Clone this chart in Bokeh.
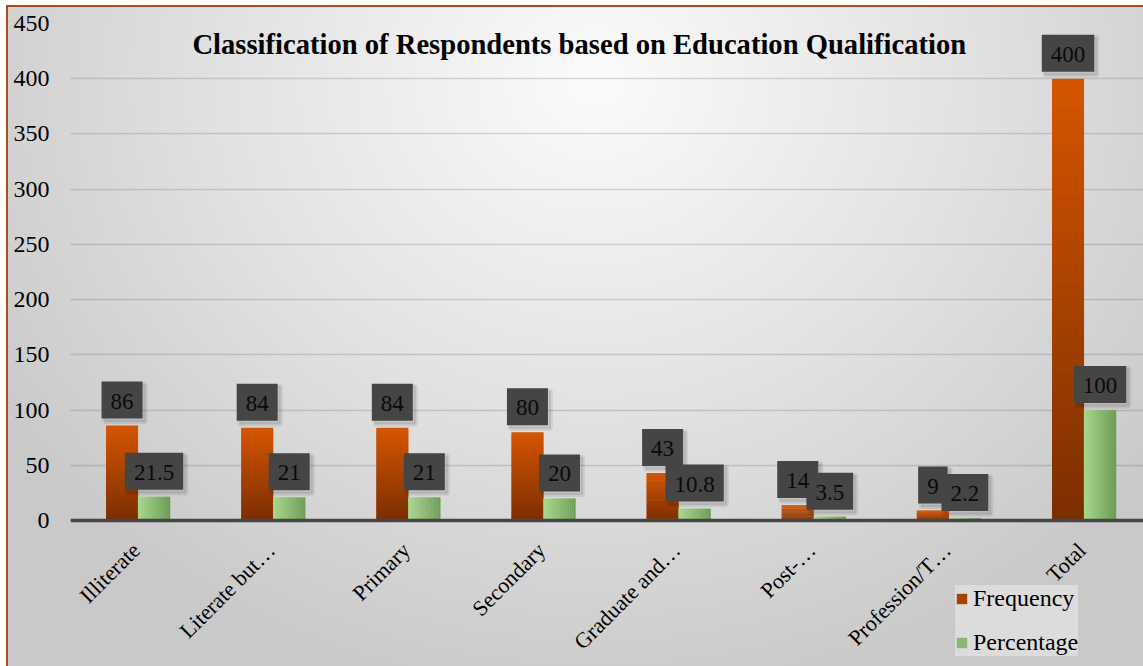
import math
from bokeh.plotting import figure
from bokeh.models import ColumnDataSource, FixedTicker, Label, LabelSet, Legend, LegendItem, Span
from bokeh.core.properties import value
from bokeh.embed import file_html
from bokeh.resources import INLINE

# ---- data ----
categories = ["Illiterate", "Literate but…", "Primary", "Secondary",
              "Graduate and…", "Post-…", "Profession/T…", "Total"]
frequency = [86, 84, 84, 80, 43, 14, 9, 400]
percentage = [21.5, 21, 21, 20, 10.8, 3.5, 2.2, 100]
y_ticks = [0, 50, 100, 150, 200, 250, 300, 350, 400, 450]
series_names = ["Frequency", "Percentage"]
title_text = "Classification of Respondents based on Education Qualification"

FONT = "Liberation Serif"
BAR_W = 0.237
OFF = BAR_W / 2
PX_PER_UNIT = 497 / 450.0          # vertical pixels per data unit
LABEL_LIFT = 25.5 / PX_PER_UNIT    # label box centre above bar top
Y_START = -146 / PX_PER_UNIT       # room below the axis for the category labels


def lerp_color(c1, c2, t):
    a = [int(c1[i:i + 2], 16) for i in (1, 3, 5)]
    b = [int(c2[i:i + 2], 16) for i in (1, 3, 5)]
    return "#%02x%02x%02x" % tuple(int(round(a[i] + (b[i] - a[i]) * t)) for i in range(3))


# orange bars: vertical gradient (dark bottom -> bright top), overlapping slices
N = 40
fx, fb, ft, fc = [], [], [], []
for i, v in enumerate(frequency):
    for k in range(N):
        fx.append(i - OFF)
        fb.append(max(0.0, v * (k - 0.6) / N))
        ft.append(v * (k + 1) / N)
        fc.append(lerp_color("#7a2e00", "#d45500", (k + 0.5) / N))
freq_src = ColumnDataSource(dict(x=fx, bottom=fb, top=ft, color=fc))

# green bars: horizontal gradient (light left -> darker right)
M = 16
gx, gt, gc = [], [], []
for i, v in enumerate(percentage):
    for j in range(M):
        gx.append(i + OFF - BAR_W / 2 + BAR_W * (j + 0.5) / M)
        gt.append(v)
        gc.append(lerp_color("#a8d88c", "#6e9c58", (j + 0.5) / M))
pct_src = ColumnDataSource(dict(x=gx, top=gt, color=gc))

p = figure(width=1143, height=666, output_backend="svg", toolbar_location=None,
           x_range=(-0.5, 7.44), y_range=(Y_START, 450),
           min_border_left=70, min_border_right=0, min_border_top=23, min_border_bottom=0)

bg = ("linear-gradient(#ffffff,#ffffff) 0 0/6px 100% no-repeat, "
      "linear-gradient(#ffffff,#ffffff) 0 0/100% 5px no-repeat, "
      "linear-gradient(#a5501f,#a5501f) 6px 5px/2px 100% no-repeat, "
      "linear-gradient(#a5501f,#a5501f) 6px 5px/100% 2px no-repeat, "
      "radial-gradient(ellipse 62% 95% at 52% 12%, #fbfbfb 0%, #e3e3e3 50%, #c9c9c9 100%)")
p.styles = {"background": bg}
p.border_fill_color = None
p.background_fill_color = None
p.outline_line_color = None

r_freq = p.vbar(x="x", width=BAR_W, bottom="bottom", top="top", source=freq_src,
                fill_color="color", line_color=None)
r_pct = p.vbar(x="x", width=BAR_W / M * 1.15, bottom=0, top="top", source=pct_src,
               fill_color="color", line_color=None)

# x axis: line only (category labels drawn below as rotated labels)
p.xaxis.visible = False
p.add_layout(Span(location=0, dimension="width", line_color="#464646", line_width=3.5))

p.yaxis.ticker = FixedTicker(ticks=y_ticks)
p.yaxis.axis_line_color = None
p.yaxis.major_tick_line_color = None
p.yaxis.minor_tick_line_color = None
p.yaxis.major_label_text_font = FONT
p.yaxis.major_label_text_font_size = "24px"
p.yaxis.major_label_text_color = "#000000"
p.yaxis.major_label_standoff = 15

p.xgrid.grid_line_color = None
p.ygrid.grid_line_color = "#000000"
p.ygrid.grid_line_alpha = 0.13
p.ygrid.grid_line_width = 1.5

# category labels
cat_src = ColumnDataSource(dict(x=list(range(len(categories))), y=[0] * len(categories),
                                text=categories))
p.add_layout(LabelSet(x="x", y="y", text="text", source=cat_src, x_offset=-2, y_offset=-26,
                      angle=math.pi / 4, text_align="right", text_baseline="middle",
                      text_font=value(FONT), text_font_size=value("22px"),
                      text_color="#000000"))

# data labels (dark boxes with shadow)
lab_x = [i - OFF for i in range(len(categories))] + [i + OFF for i in range(len(categories))]
lab_v = list(frequency) + list(percentage)
lab_t = [f"{v:g}" for v in frequency] + [f"{v:g}" for v in percentage]
lab_y = [v + LABEL_LIFT for v in lab_v]
lab_w = [18 + 11.5 * sum(ch.isdigit() for ch in t) + 5.8 * t.count(".") for t in lab_t]
lab_sx = [x + 3 / 135.1 for x in lab_x]
lab_sy = [y - 3 / PX_PER_UNIT for y in lab_y]
lab_src = ColumnDataSource(dict(x=lab_x, y=lab_y, sx=lab_sx, sy=lab_sy, w=lab_w, text=lab_t))

p.rect(x="sx", y="sy", width="w", height=38, width_units="screen", height_units="screen",
       source=lab_src, fill_color="#000000", fill_alpha=0.10, line_color="#000000",
       line_alpha=0.08, line_width=4)
p.rect(x="x", y="y", width="w", height=37, width_units="screen", height_units="screen",
       source=lab_src, fill_color="#454545", line_color=None)
p.text(x="x", y="y", text="text", source=lab_src, text_align="center", text_baseline="middle",
       text_font=value(FONT), text_font_size="23px", text_color="#0a0a0a", y_offset=1)

# title inside plot area
p.add_layout(Label(x=3.265, y=431, text=title_text, text_align="center", text_baseline="middle",
                   text_font=FONT, text_font_style="bold", text_font_size="28.6px",
                   text_color="#000000"))

legend = Legend(items=[LegendItem(label=series_names[0], renderers=[r_freq], index=N // 2),
                       LegendItem(label=series_names[1], renderers=[r_pct], index=M // 2)],
                location=(885, 10), orientation="vertical",
                background_fill_color="#dcdcdc", background_fill_alpha=1.0,
                border_line_color=None, label_text_font=FONT, label_text_font_size="24px",
                label_text_color="#000000", glyph_width=13, glyph_height=13,
                label_standoff=5, spacing=17, padding=14, margin=0, label_height=20)
p.add_layout(legend)

open("out.html", "w").write(file_html(p, INLINE))
